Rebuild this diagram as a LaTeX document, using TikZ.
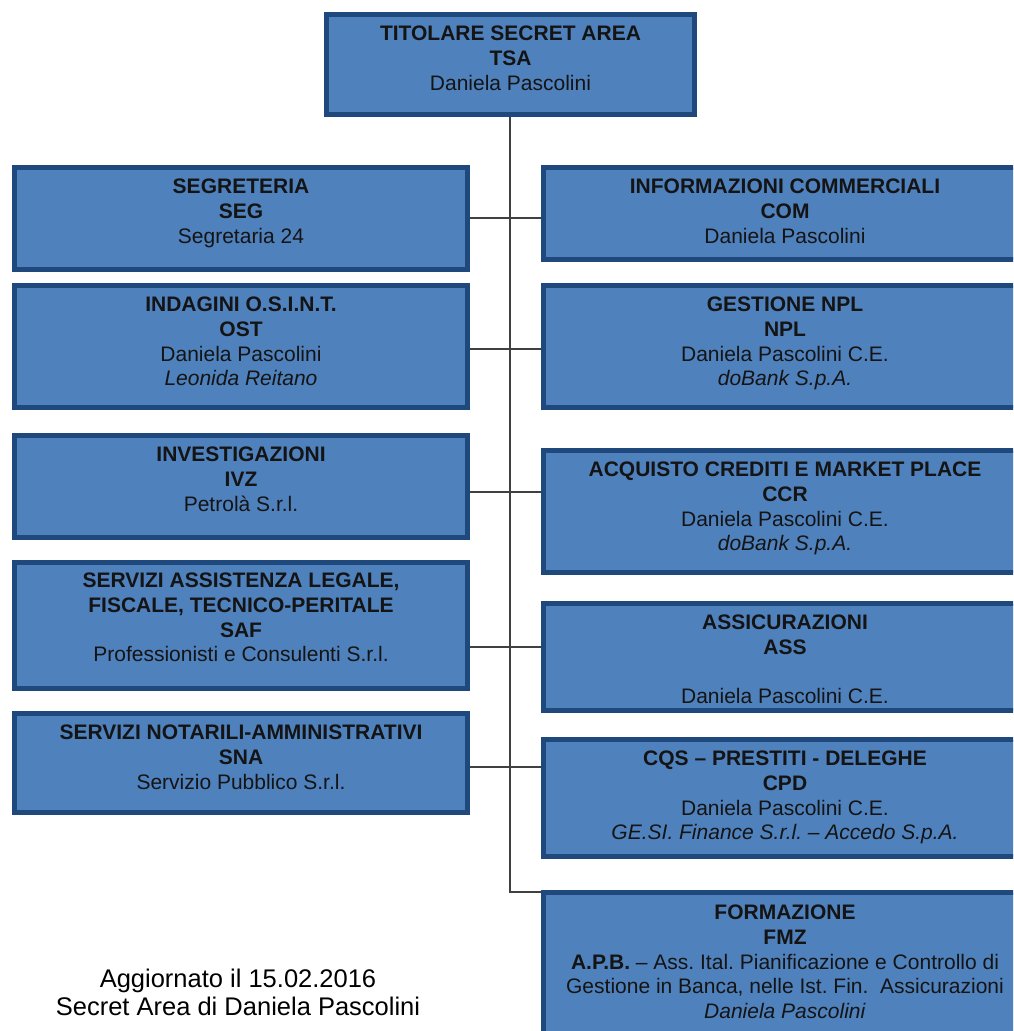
\documentclass[tikz,border=0pt]{standalone}
\usepackage{fontspec}
\setmainfont{Liberation Sans}
\usetikzlibrary{backgrounds}
\definecolor{boxfill}{HTML}{4F81BD}
\definecolor{boxline}{HTML}{1F497D}
\definecolor{connc}{HTML}{404040}
\definecolor{txtc}{HTML}{141414}
\frenchspacing
\begin{document}
\begin{tikzpicture}[x=1pt,y=-1pt,
  orgbox/.style={draw=boxline, fill=boxfill, line width=5pt, inner sep=0pt, rectangle},
  lbox/.style={orgbox, minimum width=453pt},
  rbox/.style={orgbox, minimum width=483pt},
  orgtxt/.style={align=center, inner sep=0pt, font=\fontsize{21}{24.6}\selectfont, text=txtc, anchor=north},
  connline/.style={draw=connc, line width=1.5pt}]
\useasboundingbox (0,0) rectangle (1013,1031);
\clip (0,0) rectangle (1013,1031);

% boxes
\node[orgbox, minimum width=368pt, minimum height=100pt] (tsa) at (510.5,64.5) {};
\node[lbox, minimum height=102pt] (seg) at (241,218.5) {};
\node[rbox, minimum height=92pt]  (com) at (785,213.5) {};
\node[lbox, minimum height=122pt] (ost) at (241,346.5) {};
\node[rbox, minimum height=122pt] (npl) at (785,346.5) {};
\node[lbox, minimum height=102pt] (ivz) at (241,486.5) {};
\node[rbox, minimum height=122pt] (ccr) at (785,511.5) {};
\node[lbox, minimum height=126pt] (saf) at (241,625.5) {};
\node[rbox, minimum height=107pt] (ass) at (785,657) {};
\node[lbox, minimum height=99pt] (sna) at (241,763) {};
\node[rbox, minimum height=117pt] (cpd) at (785,798) {};
\node[rbox, minimum height=165pt] (fmz) at (785,975) {};

% texts
\node[orgtxt] (tsa-t) at (510.5,26) {\textbf{TITOLARE SECRET AREA}\\\textbf{TSA}\\Daniela Pascolini};
\node[orgtxt] (seg-t) at (241,179) {\textbf{SEGRETERIA}\\\textbf{SEG}\\Segretaria 24};
\node[orgtxt] (com-t) at (785,179) {\textbf{INFORMAZIONI COMMERCIALI}\\\textbf{COM}\\Daniela Pascolini};
\node[orgtxt] (ost-t) at (241,297) {\textbf{INDAGINI O.S.I.N.T.}\\\textbf{OST}\\Daniela Pascolini\\\textit{Leonida Reitano}};
\node[orgtxt] (npl-t) at (785,297) {\textbf{GESTIONE NPL}\\\textbf{NPL}\\Daniela Pascolini C.E.\\\textit{doBank S.p.A.}};
\node[orgtxt] (ivz-t) at (241,447) {\textbf{INVESTIGAZIONI}\\\textbf{IVZ}\\Petrolà S.r.l.};
\node[orgtxt] (ccr-t) at (785,462) {\textbf{ACQUISTO CREDITI E MARKET PLACE}\\\textbf{CCR}\\Daniela Pascolini C.E.\\\textit{doBank S.p.A.}};
\node[orgtxt] (saf-t) at (241,573) {\textbf{SERVIZI ASSISTENZA LEGALE,}\\\textbf{FISCALE, TECNICO-PERITALE}\\\textbf{SAF}\\Professionisti e Consulenti S.r.l.};
\node[orgtxt] (ass-t) at (785,615) {\textbf{ASSICURAZIONI}\\\textbf{ASS}\\[24.6pt]Daniela Pascolini C.E.};
\node[orgtxt] (sna-t) at (241,725) {\textbf{SERVIZI NOTARILI-AMMINISTRATIVI}\\\textbf{SNA}\\Servizio Pubblico S.r.l.};
\node[orgtxt] (cpd-t) at (785,751) {\textbf{CQS -- PRESTITI - DELEGHE}\\\textbf{CPD}\\Daniela Pascolini C.E.\\\textit{GE.SI. Finance S.r.l. -- Accedo S.p.A.}};
\node[orgtxt] (fmz-t) at (785,905) {\textbf{FORMAZIONE}\\\textbf{FMZ}\\\textbf{A.P.B.} -- Ass. Ital. Pianificazione e Controllo di\\Gestione in Banca, nelle Ist. Fin.\ \ Assicurazioni\\\textit{Daniela Pascolini}};

\node[anchor=north, align=center, inner sep=0pt, font=\fontsize{25.5}{28}\selectfont] (upd) at (238,969) {Aggiornato il 15.02.2016\\Secret Area di Daniela Pascolini};

% connectors
\coordinate (j0) at (510,892);
\coordinate (h1) at (510,218);
\coordinate (h2) at (510,349);
\coordinate (h3) at (510,492);
\coordinate (h4) at (510,647);
\coordinate (h5) at (510,767);
\begin{scope}[on background layer]
\draw[connline] (tsa.south -| j0) -- (j0) -- (fmz.west |- j0);
\draw[connline] (seg.east |- h1) -- (com.west |- h1);
\draw[connline] (ost.east |- h2) -- (npl.west |- h2);
\draw[connline] (ivz.east |- h3) -- (ccr.west |- h3);
\draw[connline] (saf.east |- h4) -- (ass.west |- h4);
\draw[connline] (sna.east |- h5) -- (cpd.west |- h5);
\end{scope}
\end{tikzpicture}
\end{document}
